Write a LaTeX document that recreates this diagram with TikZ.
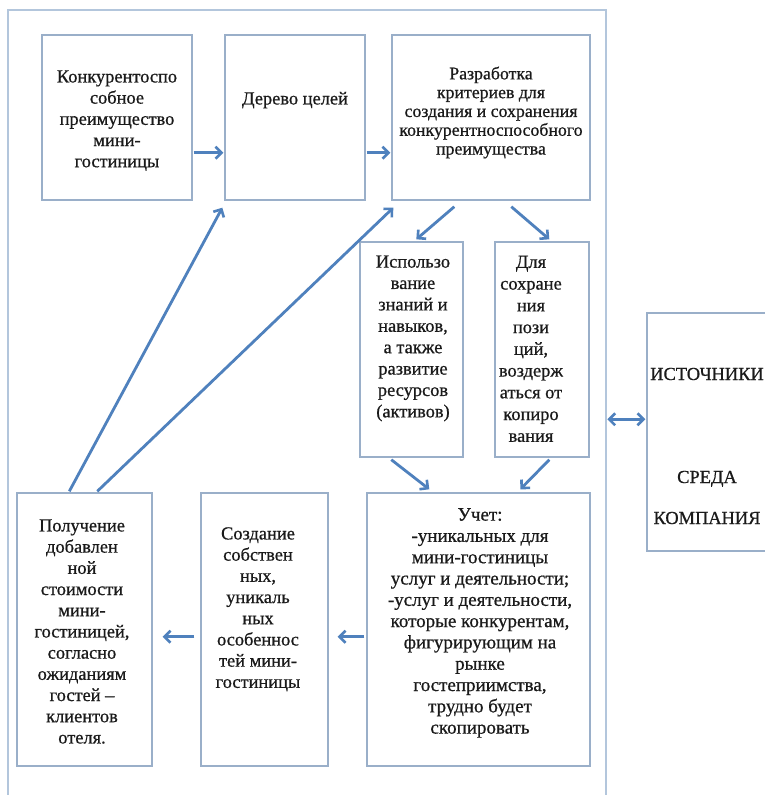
\documentclass[tikz,border=0pt]{standalone}
\usepackage{fontspec}
\setmainfont{Liberation Serif}[FakeBold=0.7]
\usetikzlibrary{arrows.meta,calc}
\definecolor{boxline}{HTML}{9AAFC9}
\definecolor{frameline}{HTML}{B3C6DC}
\definecolor{arrowblue}{HTML}{4F81BD}
\definecolor{txt}{HTML}{1A1A1A}
\tikzset{
  box/.style={draw=boxline, line width=1.4pt, rectangle, inner sep=0pt, fill=white},
  label/.style={anchor=north, inner sep=0pt, align=center, text=txt},
  flow/.style={draw=arrowblue, line width=2.8pt, -{Straight Barb[length=6pt,width=12pt,line width=2.6pt]}},
  flowboth/.style={draw=arrowblue, line width=2.8pt, {Straight Barb[length=6pt,width=12pt,line width=2.6pt]}-{Straight Barb[length=6pt,width=12pt,line width=2.6pt]}},
}
\newcommand{\fA}{\fontsize{18.4}{21.2}\selectfont}
\begin{document}
\begin{tikzpicture}[x=1pt,y=-1pt]
\clip (0,0) rectangle (765,795);
\fill[white] (0,0) rectangle (765,795);
% outer frame
\node[draw=frameline, line width=1.4pt, rectangle, inner sep=0pt, minimum width=598pt, minimum height=900pt] (outer) at (307,460) {};
% boxes
\node[box, minimum width=150pt, minimum height=165pt] (b1) at (117,117.5) {};
\node[box, minimum width=140pt, minimum height=165pt] (b2) at (295,117.5) {};
\node[box, minimum width=198pt, minimum height=165pt] (b3) at (491,117.5) {};
\node[box, minimum width=103pt, minimum height=215pt] (b4) at (411.5,349.5) {};
\node[box, minimum width=94pt, minimum height=215pt] (b5) at (542,349.5) {};
\node[box, minimum width=223pt, minimum height=273pt] (b6) at (478.5,629.5) {};
\node[box, minimum width=127pt, minimum height=273pt] (b7) at (264.5,629.5) {};
\node[box, minimum width=135pt, minimum height=273pt] (b8) at (84.5,629.5) {};
\node[box, minimum width=160pt, minimum height=238pt] (src) at (727,432) {};
% texts
\node[label, font=\fA] (t1) at (117,67.4) {\strut Конкурентоспо\\собное\\преимущество\\мини-\\гостиницы};
\node[label, font=\fA] (t2) at (295,89.4) {\strut Дерево целей};
\node[label, font=\fontsize{17.8}{18.8}\selectfont] (t3) at (491,66) {\strut Разработка\\критериев для\\создания и сохранения\\конкурентноспособного\\преимущества};
\node[label, font=\fontsize{18.4}{21.4}\selectfont] (t4) at (413,252.4) {\strut Использо\\вание\\знаний и\\навыков,\\а также\\развитие\\ресурсов\\(активов)};
\node[label, font=\fontsize{18.4}{21.75}\selectfont] (t5) at (531,252.4) {\strut Для\\сохране\\ния\\пози\\ций,\\воздерж\\аться от\\копиро\\вания};
\node[label, font=\fontsize{19}{21.3}\selectfont] (t6) at (480,505.5) {\strut Учет:\\-уникальных для\\мини-гостиницы\\услуг и деятельности;\\-услуг и деятельности,\\которые конкурентам,\\фигурирующим на\\рынке\\гостеприимства,\\трудно будет\\скопировать};
\node[label, font=\fA] (t7) at (258,524.4) {\strut Создание\\собствен\\ных,\\уникаль\\ных\\особеннос\\тей мини-\\гостиницы};
\node[label, font=\fA] (t8) at (82,516.4) {\strut Получение\\добавлен\\ной\\стоимости\\мини-\\гостиницей,\\согласно\\ожиданиям\\гостей –\\клиентов\\отеля.};
\node[anchor=base, inner sep=0pt, text=txt, font=\fA] (s1) at (707,380) {ИСТОЧНИКИ};
\node[anchor=base, inner sep=0pt, text=txt, font=\fA] (s2) at (707,483) {СРЕДА};
\node[anchor=base, inner sep=0pt, text=txt, font=\fA] (s3) at (707,524) {КОМПАНИЯ};
% arrows
\draw[flow] ($(b1.south east)+(1,-48)$) -- ($(b2.south west)+(-1,-48)$);
\draw[flow] ($(b2.south east)+(1,-48)$) -- ($(b3.south west)+(-1,-48)$);
\draw[flow] ($(b3.south west)+(63,6)$) -- ($(b4.north west)+(57,-2)$);
\draw[flow] ($(b3.south west)+(120,6)$) -- ($(b5.north west)+(55,-2)$);
\draw[flow] ($(b4.south west)+(32,2)$) -- ($(b6.north west)+(63,-3)$);
\draw[flow] ($(b5.south west)+(55,2)$) -- ($(b6.north west)+(154,-3)$);
\draw[flow] ($(b6.south west)+(-2,-130)$) -- ($(b7.south east)+(9,-130)$);
\draw[flow] ($(b7.south west)+(-6,-130)$) -- ($(b8.south east)+(10,-130)$);
\draw[flow] ($(b8.north west)+(53,-1)$) -- ($(b2.south west)+(-2,7)$);
\draw[flow] ($(b8.north west)+(81,-1)$) -- ($(b3.south west)+(2,7)$);
\draw[flowboth] ($(src.north west)+(-39,107)$) -- ($(src.north west)+(-1,107)$);
\end{tikzpicture}
\end{document}
